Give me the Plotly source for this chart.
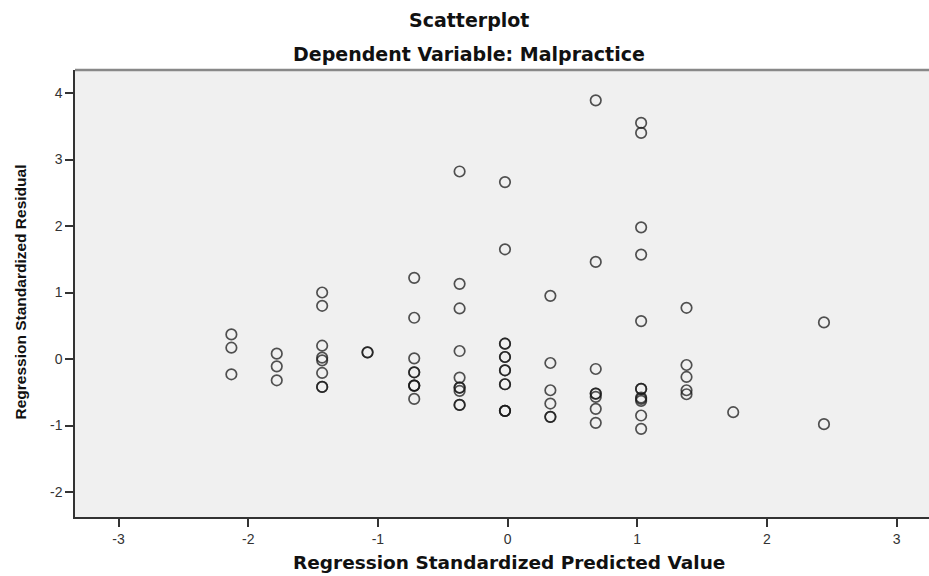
import plotly.graph_objects as go

# Regression standardized predicted values (x) and residuals (y)
predicted = [
    -2.13, -2.13, -2.13,
    -1.78, -1.78, -1.78,
    -1.43, -1.43, -1.43, -1.43, -1.43, -1.43, -1.43, -1.43,
    -1.08, -1.08,
    -0.72, -0.72, -0.72, -0.72, -0.72, -0.72, -0.72, -0.72, -0.72,
    -0.37, -0.37, -0.37, -0.37, -0.37, -0.37, -0.37, -0.37, -0.37, -0.37,
    -0.02, -0.02, -0.02, -0.02, -0.02, -0.02, -0.02, -0.02, -0.02, -0.02, -0.02, -0.02, -0.02,
    0.33, 0.33, 0.33, 0.33, 0.33, 0.33,
    0.68, 0.68, 0.68, 0.68, 0.68, 0.68, 0.68, 0.68,
    1.03, 1.03, 1.03, 1.03, 1.03, 1.03, 1.03, 1.03, 1.03, 1.03, 1.03, 1.03,
    1.38, 1.38, 1.38, 1.38, 1.38,
    1.74,
    2.44, 2.44,
]
residual = [
    0.37, 0.17, -0.23,
    0.08, -0.11, -0.32,
    1.00, 0.80, 0.20, 0.02, -0.02, -0.21, -0.42, -0.42,
    0.10, 0.10,
    1.22, 0.62, 0.01, -0.20, -0.20, -0.40, -0.40, -0.40, -0.60,
    2.82, 1.13, 0.76, 0.12, -0.28, -0.43, -0.43, -0.48, -0.69, -0.69,
    2.66, 1.65, 0.23, 0.23, 0.03, 0.03, -0.17, -0.17, -0.38, -0.38, -0.78, -0.78, -0.78,
    0.95, -0.06, -0.47, -0.67, -0.87, -0.87,
    3.89, 1.46, -0.15, -0.52, -0.52, -0.57, -0.75, -0.96,
    3.55, 3.40, 1.98, 1.57, 0.57, -0.45, -0.45, -0.58, -0.60, -0.63, -0.85, -1.05,
    0.77, -0.09, -0.27, -0.47, -0.53,
    -0.80,
    0.55, -0.98,
]
tick_vals_x = [-3, -2, -1, 0, 1, 2, 3]
tick_vals_y = [-2, -1, 0, 1, 2, 3, 4]

title_text = "Scatterplot"
subtitle_text = "Dependent Variable: Malpractice"
x_title = "Regression Standardized Predicted Value"
y_title = "Regression Standardized Residual"

fig = go.Figure()
fig.add_trace(go.Scatter(
    x=predicted, y=residual, mode="markers",
    marker=dict(symbol="circle", size=10.5, color="rgba(0,0,0,0)",
                line=dict(color="rgba(25,25,25,0.75)", width=1.7)),
    hoverinfo="x+y", showlegend=False,
))

tick_font = dict(family="Liberation Sans, Arial, sans-serif", size=14, color="#333333")

fig.update_layout(
    width=929, height=576,
    margin=dict(l=75, r=0, t=70, b=59),
    paper_bgcolor="white",
    plot_bgcolor="#f0f0f0",
    xaxis=dict(
        range=[-3.336, 3.25], tickvals=tick_vals_x, ticktext=[str(v) for v in tick_vals_x],
        showgrid=False, zeroline=False, showline=True, linecolor="#333333", linewidth=1.5,
        ticks="outside", ticklen=8, tickwidth=1.5, tickcolor="#333333", tickfont=tick_font,
    ),
    yaxis=dict(
        range=[-2.376, 4.346], tickvals=tick_vals_y, ticktext=[str(v) for v in tick_vals_y],
        showgrid=False, zeroline=False, showline=True, linecolor="#333333", linewidth=1.5,
        ticks="outside", ticklen=8, tickwidth=1.5, tickcolor="#333333", tickfont=tick_font,
    ),
    shapes=[dict(type="line", xref="paper", yref="paper", x0=0, x1=1, y0=1, y1=1,
                 line=dict(color="#888888", width=2.5))],
    annotations=[
        dict(text=title_text, xref="paper", yref="paper", x=0.461, y=1.112,
             xanchor="center", yanchor="middle", showarrow=False,
             font=dict(family="DejaVu Sans, sans-serif", size=19, color="#111111", weight="bold")),
        dict(text=subtitle_text, xref="paper", yref="paper", x=0.461, y=1.036,
             xanchor="center", yanchor="middle", showarrow=False,
             font=dict(family="DejaVu Sans, sans-serif", size=19, color="#111111", weight="bold")),
        dict(text=x_title, xref="paper", yref="paper", x=0.508, y=-0.1007,
             xanchor="center", yanchor="middle", showarrow=False,
             font=dict(family="DejaVu Sans, sans-serif", size=18.5, color="#111111", weight="bold")),
        dict(text=y_title, xref="paper", yref="paper", x=-0.064, y=0.503,
             xanchor="center", yanchor="middle", showarrow=False, textangle=-90,
             font=dict(family="Liberation Sans, Arial, sans-serif",
                       size=15.5, color="#111111", weight="bold")),
    ],
)

fig.write_html("out.html", config={"displayModeBar": False},
               post_script="document.body.style.margin='0';")
